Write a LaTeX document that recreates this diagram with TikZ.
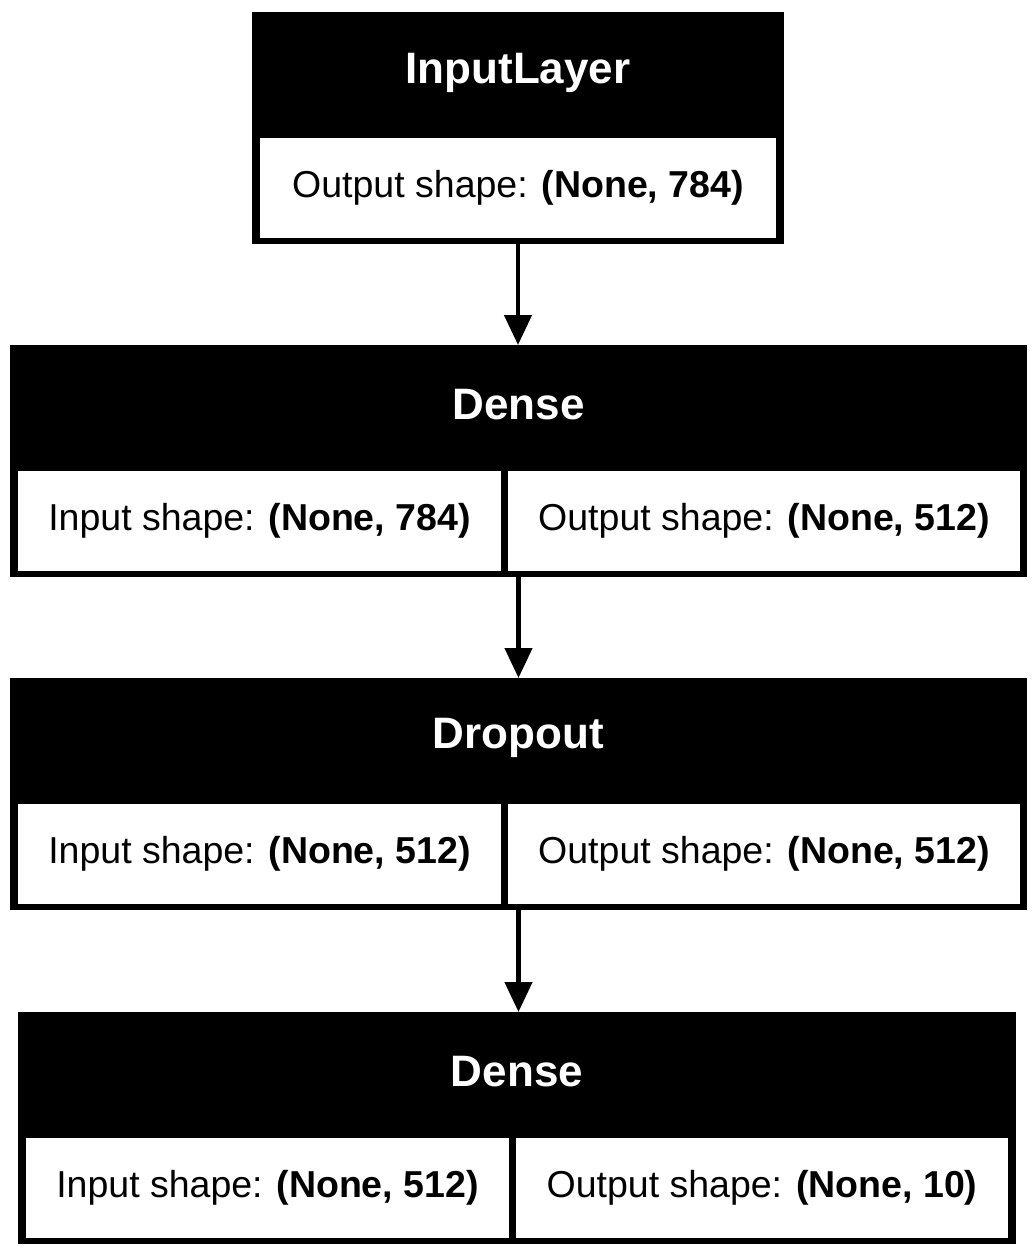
\documentclass[tikz,border=0pt]{standalone}
\usepackage{fontspec}
\setmainfont{Liberation Sans}
\usetikzlibrary{arrows.meta,positioning}
\begin{document}
\begin{tikzpicture}[x=1pt,y=-1pt,line width=4.5pt,>={Triangle[width=27pt,length=30pt]},
layer box/.style={fill=black,draw=none,minimum width=#1,minimum height=232pt,inner sep=0pt,outer sep=0pt},
shape cell/.style={fill=white,draw=none,minimum width=#1,minimum height=100pt,inner sep=0pt,outer sep=0pt,font=\fontsize{37.5}{45}\selectfont},
head text/.style={text=white,inner sep=0pt,font=\fontsize{44}{52}\selectfont\bfseries}]
\useasboundingbox (0,0) rectangle (1036,1256);
% layer boxes
\node[layer box=532pt] (input) at (518,127.5) {};
\node[layer box=1017pt] (dense1) at (518.5,461) {};
\node[layer box=1017pt] (drop) at (518.5,794) {};
\node[layer box=998pt] (dense2) at (517,1128) {};
% headers
\node[head text] (input head) at (518,73) {InputLayer};
\node[head text] (dense1 head) at (518.5,405) {Dense};
\node[head text] (drop head) at (518.5,738) {Dropout};
\node[head text] (dense2 head) at (517,1072) {Dense};
% shape cells
\node[shape cell=516pt] (input out) at (518,187.5) {Output shape: \textbf{(None, 784)}};
\node[shape cell=483pt] (dense1 in) at (259.5,520.5) {Input shape: \textbf{(None, 784)}};
\node[shape cell=512pt] (dense1 out) at (764,520.5) {Output shape: \textbf{(None, 512)}};
\node[shape cell=483pt] (drop in) at (259.5,853.5) {Input shape: \textbf{(None, 512)}};
\node[shape cell=512pt] (drop out) at (764,853.5) {Output shape: \textbf{(None, 512)}};
\node[shape cell=483pt] (dense2 in) at (267.5,1187.5) {Input shape: \textbf{(None, 512)}};
\node[shape cell=492pt] (dense2 out) at (762,1187.5) {Output shape: \textbf{(None, 10)}};
% arrows
\draw[->] (input.south) -- (input.south |- dense1.north);
\draw[->] (dense1.south) -- (dense1.south |- drop.north);
\draw[->] (drop.south) -- (drop.south |- dense2.north);
\end{tikzpicture}
\end{document}
